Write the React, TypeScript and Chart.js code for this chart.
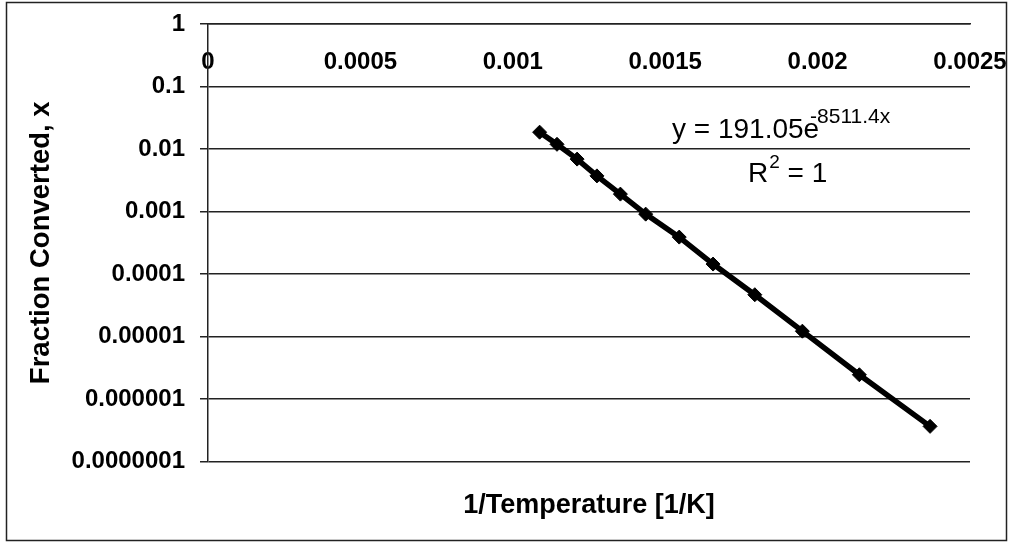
import React, { useEffect, useRef } from "react";
import { Chart, registerables } from "chart.js";

Chart.register(...registerables);

// Data
const invTemperature = [0.001088, 0.001145, 0.001211, 0.001276, 0.001353, 0.001436, 0.001546, 0.001657, 0.001794, 0.00195, 0.002137, 0.002369];
const fractionConverted = [0.0186, 0.0119, 0.0069, 0.00372, 0.0019, 0.000909, 0.00039, 0.0001445, 0.0000467, 0.0000122, 0.00000245, 0.000000366];

const xTickValues = [0, 0.0005, 0.001, 0.0015, 0.002, 0.0025];
const xTickLabels = ["0", "0.0005", "0.001", "0.0015", "0.002", "0.0025"];
const yTickValues = [1e-7, 1e-6, 1e-5, 1e-4, 1e-3, 1e-2, 1e-1, 1];
const yTickLabels = ["0.0000001", "0.000001", "0.00001", "0.0001", "0.001", "0.01", "0.1", "1"];

const FONT = "'Liberation Sans', Arial, sans-serif";

const decorPlugin = {
  id: "decor",
  beforeDraw(chart: any) {
    const ctx = chart.ctx;
    ctx.save();
    ctx.fillStyle = "#fff";
    ctx.fillRect(0, 0, chart.width, chart.height);
    ctx.strokeStyle = "#222";
    ctx.lineWidth = 1.5;
    ctx.strokeRect(6.5, 2.5, chart.width - 12, chart.height - 5);
    ctx.restore();
  },
  afterDraw(chart: any) {
    const ctx = chart.ctx;
    ctx.save();
    ctx.fillStyle = "#000";
    ctx.textBaseline = "alphabetic";
    ctx.textAlign = "left";
    // Trendline equation
    const mainText = "y = 191.05e";
    ctx.font = `28px ${FONT}`;
    const x0 = 672;
    ctx.fillText(mainText, x0, 138);
    const w = ctx.measureText(mainText).width;
    ctx.font = `21px ${FONT}`;
    ctx.fillText("-8511.4x", x0 + w - 9, 123);
    // R squared
    const rx = 748;
    ctx.font = `28px ${FONT}`;
    ctx.fillText("R", rx, 182);
    const rw = ctx.measureText("R").width;
    ctx.font = `19px ${FONT}`;
    ctx.fillText("2", rx + rw + 1, 168);
    const tw = ctx.measureText("2").width;
    ctx.font = `28px ${FONT}`;
    ctx.fillText(" = 1", rx + rw + tw + 1, 182);
    ctx.restore();
  },
};

export default function App() {
  const canvasRef = useRef<HTMLCanvasElement | null>(null);

  useEffect(() => {
    document.body.style.margin = "0";
    const canvas = canvasRef.current;
    if (!canvas) return;
    const points = invTemperature.map((x, i) => ({ x, y: fractionConverted[i] }));
    const chart = new Chart(canvas, {
      type: "line",
      data: {
        datasets: [
          {
            data: points,
            borderColor: "#000",
            backgroundColor: "#000",
            borderWidth: 5.5,
            pointStyle: "rectRot",
            pointRadius: 7,
            pointBackgroundColor: "#000",
            pointBorderColor: "#000",
            pointBorderWidth: 1,
            tension: 0,
            fill: false,
          },
        ],
      },
      options: {
        animation: false,
        responsive: false,
        devicePixelRatio: 1,
        layout: { padding: { left: 0, right: 42, top: 24, bottom: 0 } },
        plugins: {
          legend: { display: false },
          tooltip: { enabled: false },
          title: {
            display: true,
            position: "bottom",
            fullSize: false,
            text: "1/Temperature [1/K]",
            color: "#000",
            font: { family: FONT, size: 27, weight: "bold", lineHeight: 1.2 },
            padding: { top: 28, bottom: 21 },
          },
        },
        scales: {
          x: {
            type: "linear",
            position: { y: 1 } as any,
            min: 0,
            max: 0.0025,
            afterBuildTicks: (scale: any) => {
              scale.ticks = xTickValues.map((v) => ({ value: v }));
            },
            ticks: {
              autoSkip: false,
              maxRotation: 0,
              padding: 0,
              color: "#000",
              font: { family: FONT, size: 24, weight: "bold", lineHeight: 1 },
              callback: (val: any) => {
                const i = xTickValues.findIndex((v) => Math.abs(v - Number(val)) < 1e-9);
                return i >= 0 ? xTickLabels[i] : "";
              },
            },
            grid: { display: false, drawTicks: true, tickLength: 26 },
            border: { display: true, color: "#222", width: 1.5 },
          },
          y: {
            type: "logarithmic",
            position: "left",
            min: 1e-7,
            max: 1,
            afterBuildTicks: (scale: any) => {
              scale.ticks = yTickValues.map((v) => ({ value: v }));
            },
            afterFit: (scale: any) => {
              scale.width = 208;
            },
            ticks: {
              autoSkip: false,
              padding: 15,
              color: "#000",
              font: { family: FONT, size: 24, weight: "bold", lineHeight: 0.7 },
              callback: (val: any) => {
                const i = yTickValues.findIndex((v) => Math.abs(Math.log10(v) - Math.log10(Number(val))) < 1e-6);
                return i >= 0 ? yTickLabels[i] : "";
              },
            },
            grid: { color: "#222", lineWidth: 1.5, tickLength: 8, drawTicks: true },
            border: { display: true, color: "#222", width: 1.5 },
            title: {
              display: true,
              text: "Fraction Converted, x",
              color: "#000",
              font: { family: FONT, size: 27.5, weight: "bold", lineHeight: 1.2 },
              padding: { top: 25, bottom: 0 },
            },
          },
        },
      },
      plugins: [decorPlugin],
    });
    return () => chart.destroy();
  }, []);

  return (
    <div style={{ width: 1012, height: 543 }}>
      <canvas ref={canvasRef} width={1012} height={543} style={{ display: "block" }} />
    </div>
  );
}
